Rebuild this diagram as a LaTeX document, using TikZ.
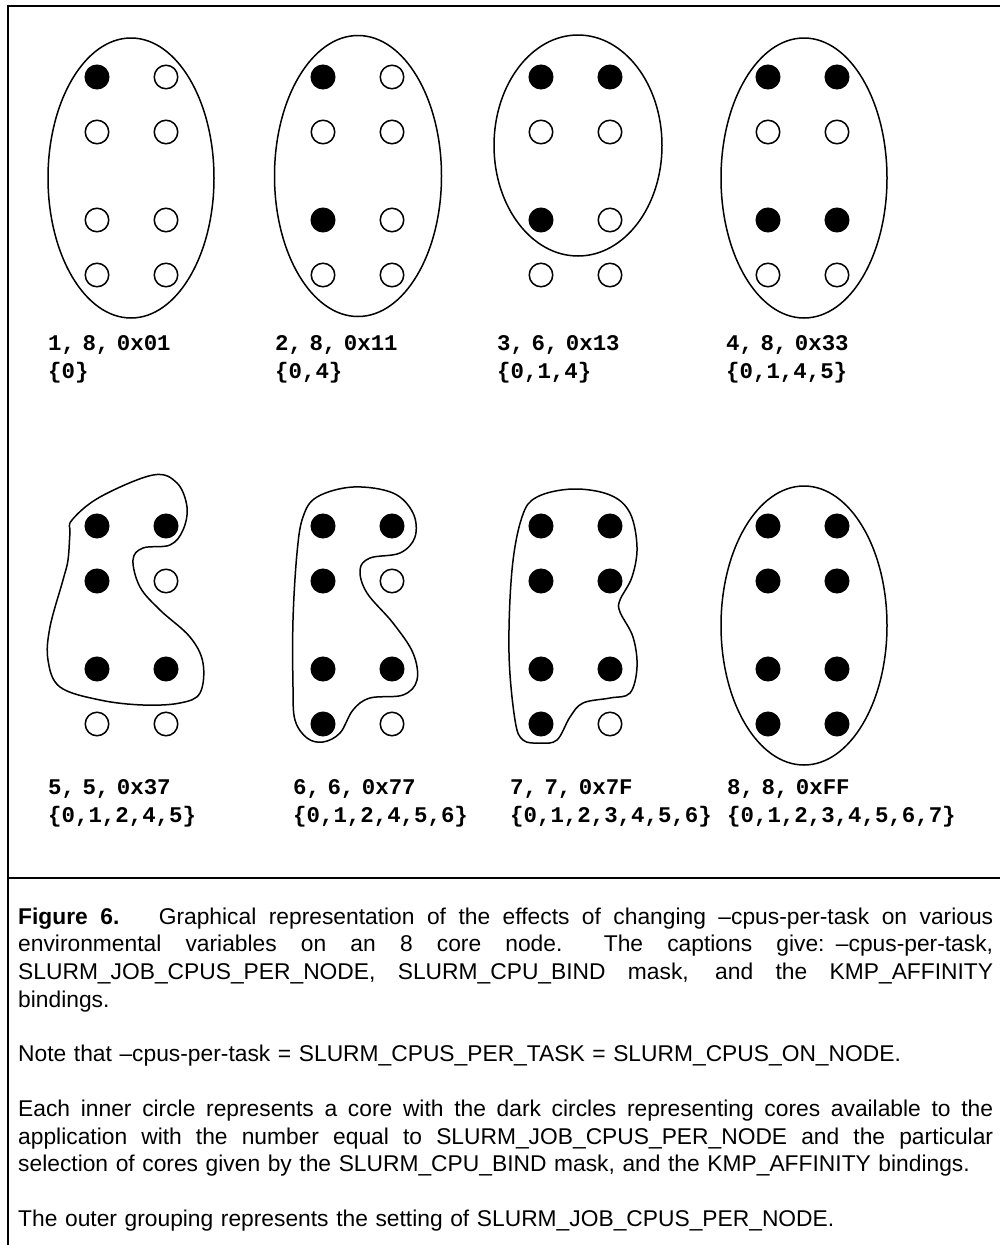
\documentclass[tikz,border=0pt]{standalone}
\usepackage{fontspec}
\setmainfont{Liberation Sans}
\newfontfamily\monofont{Liberation Mono}
\tikzset{
  core/.style={
    circle,
    draw=black,
    line width=1.5pt,
    minimum size=23.5pt,
    inner sep=0pt
  },
  cpuset/.style={
    draw=black,
    line width=1.5pt
  },
  border/.style={
    draw=black,
    line width=2.2pt
  },
  tag/.style={
    anchor=base west,
    text width=260pt,
    align=left,
    inner sep=0pt,
    font=\monofont\bfseries\fontsize{22.4}{28.4}\selectfont
  },
  caption/.style={
    anchor=base west,
    text width=975pt,
    align=left,
    inner sep=0pt,
    font=\fontsize{22.8}{27.7}\selectfont
  }
}
% eight cores of one node: name, left x, top y, CPU_BIND mask
\newcommand{\coregrid}[4]{%
  \foreach \rw/\dy in {0/0,1/55,2/143,3/198}{%
    \foreach \cl in {0,1}{%
      \pgfmathtruncatemacro\cid{2*\rw+\cl}%
      \pgfmathtruncatemacro\bit{mod(floor(#4/2^\cid),2)}%
      \ifnum\bit=1 \def\corefill{black}\else\def\corefill{white}\fi
      \node[core,fill=\corefill] (#1-\cid) at ({#2+69*\cl},{#3+\dy}) {};
    }%
  }%
}
% one justified caption line
\newcommand{\fullline}[1]{{\spaceskip=0.278em plus 1em minus 0.05em\relax
  \makebox[975pt][s]{#1}}}

\begin{document}
\begin{tikzpicture}[x=1pt,y=-1pt]
\useasboundingbox (0,0) rectangle (1000,1245);
\draw[border] (1000,6) -- (8,6) -- (8,1245);
\draw[border,line width=2pt] (8,878) -- (1000,878);

% top row
\coregrid{g1}{97}{77}{1}
\coregrid{g2}{323}{77}{17}
\coregrid{g3}{541}{77}{19}
\coregrid{g4}{768}{77}{51}
\draw[cpuset] (131,178) ellipse [x radius=83, y radius=140];
\draw[cpuset] (358,176) ellipse [x radius=83.5, y radius=140.5];
\draw[cpuset] (578,145.5) ellipse [x radius=84, y radius=110.5];
\draw[cpuset] (804,178) ellipse [x radius=83, y radius=140];
\node[tag] (t1) at (48,350) {1, 8, 0x01\\\{0\}};
\node[tag] (t2) at (275,350) {2, 8, 0x11\\\{0,4\}};
\node[tag] (t3) at (497,350) {3, 6, 0x13\\\{0,1,4\}};
\node[tag] (t4) at (726,350) {4, 8, 0x33\\\{0,1,4,5\}};

% bottom row
\coregrid{g5}{97}{526}{55}
\coregrid{g6}{323}{526}{119}
\coregrid{g7}{541}{526}{127}
\coregrid{g8}{768}{526}{255}
\draw[cpuset] plot[smooth cycle,tension=0.6] coordinates {
  (72,520) (100,497) (153,475) (177,483) (187,507) (183,530) (170,545)
  (143,548) (133,560) (140,587) (160,610) (190,637) (203,663) (200,693)
  (180,703) (143,705) (100,700) (60,687) (48,660) (50,627) (63,580)
  (68,560) (70,533)};
\draw[cpuset] plot[smooth cycle,tension=0.6] coordinates {
  (303,517) (317,497) (353,487) (393,493) (413,513) (415,537) (400,553)
  (370,558) (360,570) (367,593) (393,623) (413,653) (417,680) (403,695)
  (370,698) (353,710) (340,733) (323,742) (307,738) (295,720) (293,687)
  (293,620) (297,553)};
\draw[cpuset] plot[smooth cycle,tension=0.6] coordinates {
  (522,517) (537,497) (573,489) (610,495) (630,513) (637,547) (632,577)
  (620,600) (620,612) (633,637) (637,667) (630,693) (610,698) (583,703)
  (570,717) (557,740) (540,743) (523,740) (515,720) (509,653) (512,570)};
\draw[cpuset] (804,625.5) ellipse [x radius=83, y radius=139.5];
\node[tag] (t5) at (48,794) {5, 5, 0x37\\\{0,1,2,4,5\}};
\node[tag] (t6) at (293,794) {6, 6, 0x77\\\{0,1,2,4,5,6\}};
\node[tag] (t7) at (510,794) {7, 7, 0x7F\\\{0,1,2,3,4,5,6\}};
\node[tag] (t8) at (727,794) {8, 8, 0xFF\\\{0,1,2,3,4,5,6,7\}};

% caption
\node[caption] (cap) at (18,924) {%
\fullline{\textbf{Figure 6.}\hspace{28pt} Graphical representation of the effects of changing –cpus-per-task on various}\\
\fullline{environmental variables on an 8 core node.\hspace{30pt} The captions give: –cpus-per-task,}\\
\fullline{SLURM\_JOB\_CPUS\_PER\_NODE, SLURM\_CPU\_BIND mask, and the KMP\_AFFINITY}\\
bindings.\\[27pt]
Note that –cpus-per-task = SLURM\_CPUS\_PER\_TASK = SLURM\_CPUS\_ON\_NODE.\\[27pt]
\fullline{Each inner circle represents a core with the dark circles representing cores available to the}\\
\fullline{application with the number equal to SLURM\_JOB\_CPUS\_PER\_NODE and the particular}\\
selection of cores given by the SLURM\_CPU\_BIND mask, and the KMP\_AFFINITY bindings.\\[27pt]
The outer grouping represents the setting of SLURM\_JOB\_CPUS\_PER\_NODE.};
\end{tikzpicture}
\end{document}
